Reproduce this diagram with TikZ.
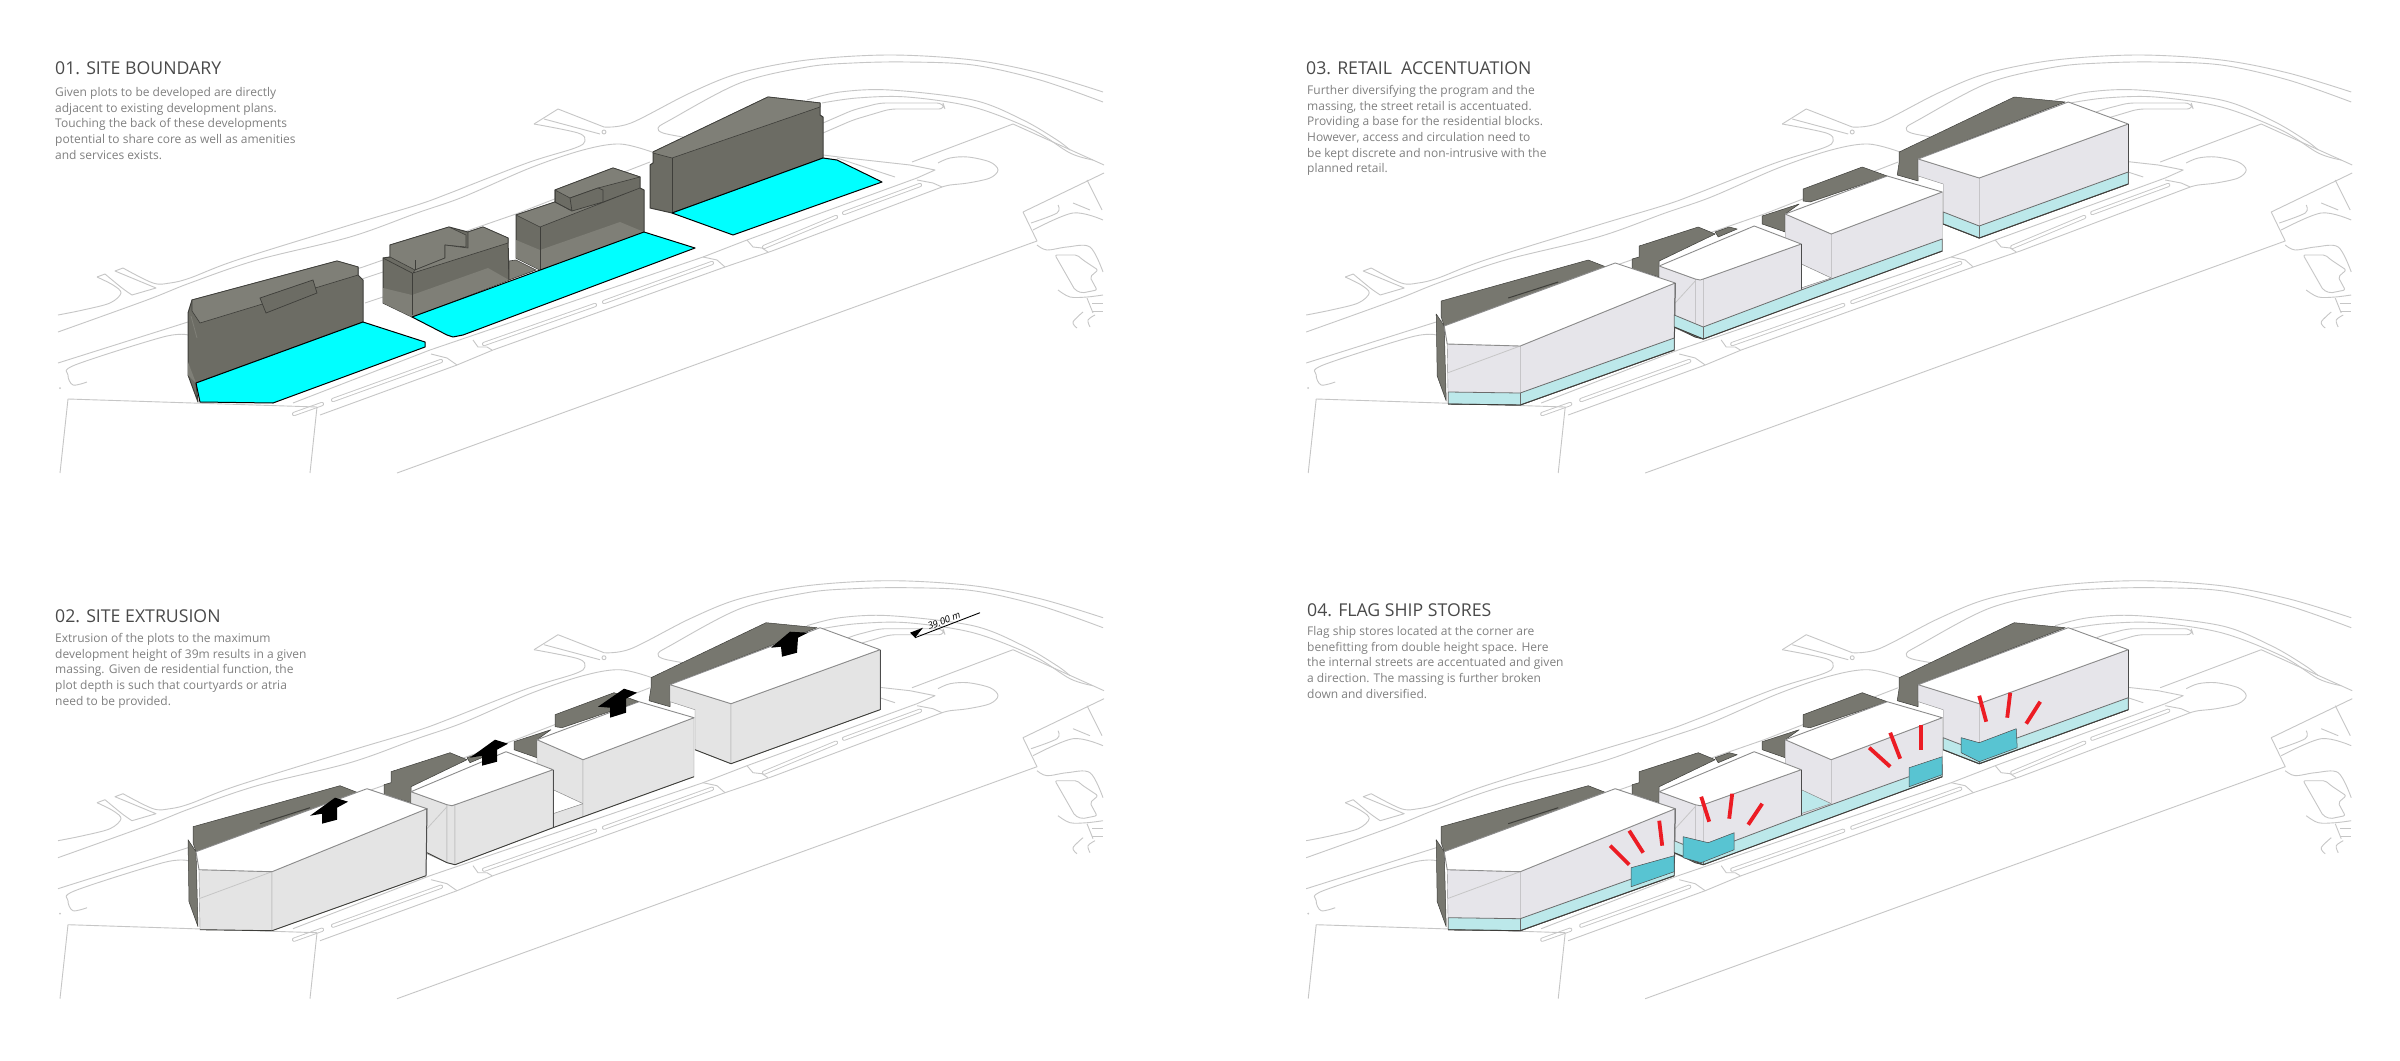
\documentclass[tikz,border=0pt]{standalone}
\usepackage{fontspec}
\setmainfont{Open Sans}
\definecolor{mapgray}{HTML}{C6C6C6}
\definecolor{bodydark}{HTML}{6C6C64}
\definecolor{roofdark}{HTML}{7F7F77}
\definecolor{remain}{HTML}{77776F}
\definecolor{edgedark}{HTML}{3E3E3A}
\definecolor{plotcyan}{HTML}{00FFFF}
\definecolor{facegrayA}{HTML}{E4E4E4}
\definecolor{facegrayB}{HTML}{E6E5EA}
\definecolor{baselight}{HTML}{BCE8EA}
\definecolor{flagcyan}{HTML}{58C4D2}
\definecolor{tickred}{HTML}{EC1C24}
\definecolor{titlegray}{HTML}{4A4A4A}
\definecolor{textgray}{HTML}{808080}
\definecolor{facelineg}{HTML}{8C8C8C}
\tikzset{
 mapline/.style={draw=mapgray,line width=.9pt,line join=round},
 slotline/.style={draw=mapgray,line width=.9pt,line cap=round,double=white,double distance=2.4pt},
 darkbody/.style={fill=bodydark,draw=edgedark,line width=1pt,line join=round},
 darkroof/.style={fill=roofdark,draw=edgedark,line width=.6pt,line join=round},
 softedge/.style={draw=edgedark,line width=.7pt},
 sitecyan/.style={fill=plotcyan,draw=black,line width=1pt,line join=round},
 remainpart/.style={fill=remain,draw=edgedark,line width=.5pt,line join=round},
 massroof/.style={fill=white,draw=facelineg,line width=.9pt,line join=round},
 massbase/.style={fill=baselight,draw=gray!85!black,line width=.8pt,line join=round},
 flagpart/.style={fill=flagcyan,draw=gray!60!black,line width=.5pt,line join=round},
 redtick/.style={draw=tickred,line width=3.8pt},
 blockarrow/.style={fill=black,draw=none},
 titletext/.style={anchor=west,inner sep=0pt,text=titlegray,font=\fontsize{17.7}{19}\selectfont},
 bodytext/.style={anchor=north west,inner sep=0pt,align=left,text=textgray,font=\fontsize{12}{15.7}\selectfont},
}
\newcommand\SmoothPath[1]{\draw[mapline] plot[smooth,tension=.55] coordinates {#1};}
\newcommand\SiteMap{%
 \SmoothPath{(58,315)(83,310)(110,303)(121,293)(113,285)(97,277)}
 \draw[mapline] (97,277)--(105,274);
 \SmoothPath{(105,274)(122,288)(132,295)}
 \draw[mapline] (132,295)--(156,288)--(115,271)--(123,268);
 \SmoothPath{(123,268)(153,283)(170,283)(190,278)(237,260)(350,225)(417,205)(450,193)(527,163)(575,148)(585,141)(578,133)(534,124)}
 \draw[mapline] (534,124)--(558,109)--(604,127);
 \draw[mapline] (544,119)--(600,134);
 \draw[mapline] (604,132) circle (2);
 \SmoothPath{(604,127)(631,123)(690,93)(740,73)(807,60)(890,55)(973,60)(1040,73)(1103,92)}
 \SmoothPath{(683,137)(663,133)(658,128)(670,120)(740,83)(807,67)(853,63)(907,62)(973,65)(1040,80)(1103,102)}
 \SmoothPath{(807,100)(840,92)(890,90)(973,100)(1023,120)(1057,140)(1070,150)}
 \SmoothPath{(822,103)(857,98)(907,97)(973,107)(1033,130)(1070,153)(1093,160)}
 \draw[mapline,rounded corners=6pt] (823,123)--(853,110)--(880,103)--(943,103)--(945,109)--(890,109)--(853,120)--(823,133);
 \draw[mapline] (912,162)--(1013,124)--(1104,165);
 \SmoothPath{(938,163)(950,158)(968,157)(990,162)(998,170)(990,178)(968,183)(950,185)(942,187)}
 \draw[mapline] (823,155)--(847,158)--(910,165)--(935,170)--(917,178);
 \draw[mapline] (837,158)--(895,177);
 \draw[mapline] (293,403)--(430,350)--(703,257)--(747,240)--(917,178);
 \draw[mapline] (320,415)--(457,365)--(493,350)--(725,267)--(772,251)--(942,187);
 \draw[mapline] (431,354)--(447,358)--(457,365);
 \draw[mapline] (473,340)--(478,347)--(487,347)--(492,350);
 \draw[mapline] (703,257)--(717,260)--(725,267);
 \draw[mapline] (747,240)--(753,247)--(762,248)--(768,252);
 \draw[mapline] (917,180)--(933,183)--(942,187);
 \draw[slotline] (294,414)--(322,404);
 \draw[slotline] (333,400)--(441,361);
 \draw[slotline] (484,344)--(595,305);
 \draw[slotline] (604,302)--(712,263);
 \draw[slotline] (764,247)--(836,217);
 \draw[slotline] (844,213)--(920,185);
 \draw[mapline] (310,473)--(317,407)--(68,399)--(60,473);
 \draw[mapline] (397,473)--(700,363)--(1037,241)--(1023,212)--(1104,173);
 \SmoothPath{(58,332)(147,300)(190,283)(257,260)(350,237)(417,213)(463,197)(530,168)(583,150)(620,144)(652,152)}
 \draw[mapline] (58,363)--(188,322)--(363,267)--(383,260)--(516,214)--(650,162);
 \SmoothPath{(87,382)(73,385)(68,375)(75,365)(163,337)(188,335)}
 \draw[mapline] (188,335)--(365,278)--(395,268);
 \draw[mapline] (365,303)--(383,297);
 \fill[mapgray] (60,388) circle (1);
 \SmoothPath{(1031,223)(1057,213)(1058,205)}
 \SmoothPath{(1033,230)(1073,213)(1103,220)}
 \draw[mapline] (1087,180)--(1102,210);
 \draw[mapline] (1073,203)--(1090,210);
 \SmoothPath{(1037,245)(1047,250)(1067,247)(1090,247)(1103,272)}
 \draw[mapline,rounded corners=2pt] (1055,255)--(1075,290)--(1082,293)--(1097,290)--(1090,277)--(1098,270)--(1083,260)--(1077,255)--cycle;
 \SmoothPath{(1058,290)(1070,297)(1087,297)(1103,295)}
 \draw[mapline] (1087,298)--(1093,313);
 \draw[mapline] (1092,303)--(1103,303);
 \draw[mapline] (1092,311)--(1103,311);
 \SmoothPath{(1077,328)(1073,322)(1083,312)}
 \SmoothPath{(1090,327)(1088,320)(1095,315)}
}
\newcommand\RemainParts{%
 \path[remainpart] (188,314)--(189,376)--(198,401)--(196,326)--cycle;
 \path[remainpart] (193,317)--(193,301)--(340,260)--(358,267)--(196,326)--cycle;
 \draw[edgedark,line width=1pt] (260,298)--(310,282);
 \path[remainpart] (384,269)--(384,259)--(391,257)--(391,246)--(450,227)--(467,234)--(411,261)--(411,277)--cycle;
 \path[remainpart] (467,232)--(481,227)--(489,229)--(470,237)--cycle;
 \path[remainpart] (514,216)--(551,204)--(537,214)--(537,232)--(514,224)--cycle;
 \path[remainpart] (555,189)--(614,167)--(639,176)--(562,202)--(555,201)--cycle;
 \path[remainpart] (651,152)--(766,97)--(817,102)--(670,159)--(670,181)--(649,175)--(651,162)--cycle;
}
% #1 face colour, #2 courtyard colour
\newcommand\MassFaces[2]{%
 \RemainParts
 \path[fill=#1,draw=facelineg] (537,214)--(583,234)--(583,278)--(553,264)--(537,258)--cycle;
 \path[fill=#2,draw=facelineg] (553,264)--(583,278)--(553,288)--cycle;
 \path[fill=#1,draw=facelineg] (553,288)--(583,278)--(583,291)--(553,302)--cycle;
 \path[fill=#1,draw=facelineg] (583,234)--(694,192)--(694,251)--(583,291)--cycle;
 \path[massroof] (537,214)--(639,176)--(694,192)--(583,234)--cycle;
 \path[fill=#1,draw=facelineg] (411,266)--(447,279)--(447,337)--(411,321)--cycle;
 \path[fill=#1,draw=facelineg] (447,279)--(455,279)--(455,339)--(447,337)--cycle;
 \path[fill=#1,draw=facelineg] (455,279)--(553,244)--(553,302)--(455,339)--cycle;
 \path[massroof] (411,266)--(506,226)--(553,244)--(458,278)--(452,280)--(447,279)--cycle;
 \draw[mapgray,line width=.8pt] (426,304)--(447,281);
 \path[fill=#1,draw=facelineg] (670,159)--(731,178)--(731,238)--(695,224)--(695,184)--(670,176)--cycle;
 \path[fill=#1,draw=facelineg] (731,178)--(880,124)--(880,184)--(731,238)--cycle;
 \path[massroof] (670,159)--(820,102)--(880,124)--(731,178)--cycle;
 \path[fill=#1,draw=facelineg] (199,344)--(272,346)--(272,405)--(200,404)--cycle;
 \draw[mapgray,line width=.8pt] (199,373)--(272,346);
 \path[fill=#1,draw=facelineg] (272,346)--(427,283)--(426,350)--(272,405)--cycle;
 \path[massroof] (196,326)--(367,263)--(427,283)--(272,346)--(199,344)--cycle;
 \draw[gray!60!black,line width=1pt] (427,283)--(426,350);
 \draw[gray!60!black,line width=1pt] (553,244)--(553,302);
 \draw[gray!60!black,line width=.9pt] (880,124)--(880,184);
 \draw[edgedark,line width=.9pt] (200,404)--(272,405)--(426,350);
 \draw[edgedark,line width=.9pt] (427,327)--(447,337)--(455,339)--(553,302);
 \draw[edgedark,line width=.9pt] (553,302)--(694,251);
 \draw[edgedark,line width=.9pt] (695,224)--(731,238)--(880,184);
}
\newcommand\MassBases{%
 \path[massbase] (200,392)--(272,393)--(426,338)--(426,350)--(272,405)--(200,404)--cycle;
 \draw[gray!85!black,line width=.6pt] (272,393)--(272,405);
 \path[massbase] (426,315)--(455,327)--(553,290)--(583,279)--(694,239)--(694,251)--(455,339)--(426,327)--cycle;
 \draw[gray!85!black,line width=.6pt] (455,327)--(455,339);
 \path[massbase] (695,212)--(731,226)--(880,172)--(880,184)--(731,238)--(695,224)--cycle;
 \draw[gray!85!black,line width=.6pt] (731,226)--(731,238);
 \draw[edgedark,line width=.9pt] (200,404)--(272,405)--(426,350);
 \draw[edgedark,line width=.9pt] (426,327)--(455,339)--(694,251);
 \draw[edgedark,line width=.9pt] (695,224)--(731,238)--(880,184);
}
\begin{document}
\begin{tikzpicture}[x=1pt,y=-1pt]
\useasboundingbox (0,0) rectangle (2400,1060);
\fill[white] (0,0) rectangle (2400,1060);
% ---------- panel 1
\begin{scope}
 \SiteMap
 % building 1
 \path[darkbody] (188,313)--(192,300)--(337,261)--(358,267)--(358,275)--(363,280)--(363,322)--(196,383)--(198,402)--(188,375)--cycle;
 \path[darkroof] (192,300)--(337,261)--(358,267)--(358,275)--(200,323)--(192,311)--cycle;
 \path[fill=bodydark,draw=edgedark,line width=.7pt] (260,298)--(313,280)--(317,293)--(266,313)--cycle;
 \draw[roofdark,line width=.8pt] (191,316)--(197,338);
 \fill[roofdark] (188,375)--(188,362)--(196,383)--cycle;
 % building 2a
 \path[darkbody] (383,258)--(390,257)--(390,245)--(449,227)--(468,232)--(483,227)--(508,238)--(509,280)--(412,317)--(383,303)--cycle;
 \fill[roofdark] (412,295)--(488,268)--(509,280)--(412,317)--cycle;
 \fill[roofdark] (383,288)--(412,295)--(412,317)--(383,303)--cycle;
 \path[darkroof] (390,245)--(449,227)--(466,235)--(466,247)--(445,245)--(445,258)--(415,270)--(390,257)--cycle;
 \path[darkroof] (468,232)--(483,227)--(508,238)--(508,243)--(413,273)--(415,270)--(445,258)--(445,245)--(468,248)--cycle;
 \draw[softedge] (412,273)--(412,315);
 \draw[softedge] (383,258)--(412,273);
 \draw[softedge] (415,270)--(415,260);
 % court
 \path[fill=roofdark,draw=edgedark,line width=.6pt] (509,261)--(516,260)--(536,270)--(509,280)--cycle;
 % building 2b
 \path[darkbody] (516,215)--(555,202)--(555,190)--(613,168)--(640,177)--(640,188)--(644,190)--(644,232)--(540,270)--(516,258)--cycle;
 \fill[roofdark] (540,250)--(620,222)--(644,232)--(540,270)--cycle;
 \fill[roofdark] (516,240)--(540,250)--(540,270)--(516,258)--cycle;
 \path[darkroof] (516,215)--(555,202)--(570,210)--(603,202)--(640,188)--(540,227)--cycle;
 \path[darkroof] (555,190)--(613,168)--(640,177)--(598,188)--(570,198)--cycle;
 \path[fill=bodydark,draw=edgedark,line width=.7pt] (570,198)--(598,188)--(603,190)--(603,202)--(572,211)--cycle;
 \draw[softedge] (555,190)--(555,202)--(572,211);
 \draw[softedge] (540,227)--(540,270);
 % building 3
 \path[darkbody] (653,152)--(768,97)--(820,103)--(820,115)--(823,117)--(823,158)--(672,213)--(650,208)--(650,165)--(653,163)--cycle;
 \path[darkroof] (653,152)--(768,97)--(820,103)--(820,107)--(672,158)--(653,153)--cycle;
 \draw[softedge] (672,158)--(672,213);
 % plots
 \path[sitecyan] (196,383)--(363,322)--(425,342)--(425,347)--(273,403)--(200,402)--cycle;
 \path[sitecyan] (412,317)--(644,232)--(695,248)--(463,335)--(453,337)--(447,335)--cycle;
 \path[sitecyan] (672,213)--(823,158)--(837,160)--(882,182)--(733,235)--cycle;
 \node[titletext] (t1) at (55,68) {01. SITE BOUNDARY};
 \node[bodytext] (b1) at (55,87) {Given plots to be developed are directly\\adjacent to existing development plans.\\Touching the back of these developments\\potential to share core as well as amenities\\and services exists.};
\end{scope}
% ---------- panel 2
\begin{scope}[shift={(0,525.7)}]
 \SiteMap
 \MassFaces{facegrayA}{white}
 \path[blockarrow] (310,290)--(335,272)--(348,276)--(337,282)--(337,294)--(322,298)--(322,288)--cycle;
 \path[blockarrow] (470,232)--(495,214)--(508,218)--(497,224)--(497,236)--(482,240)--(482,230)--cycle;
 \path[blockarrow] (598,181)--(624,163)--(637,167)--(626,173)--(626,187)--(610,192)--(610,182)--cycle;
 \path[blockarrow] (771,122)--(790,106)--(808,107)--(798,112)--(797,127)--(782,131)--(781,121)--cycle;
 \coordinate (dimA) at (915,112);
 \coordinate (dimB) at (980,87);
 \draw[black,line width=.9pt] (dimA)--(dimB);
 \path[blockarrow] (910,107)--(923,102)--(915,112)--cycle;
 \node[rotate=21,inner sep=0pt,font=\fontsize{9.5}{10}\itshape\selectfont,text=black] (dim) at (944,95) {39.00 m};
\end{scope}
\node[titletext] (t2) at (55,616) {02. SITE EXTRUSION};
\node[bodytext] (b2) at (55,633) {Extrusion of the plots to the maximum\\development height of 39m results in a given\\massing. Given de residential function, the\\plot depth is such that courtyards or atria\\need to be provided.};
% ---------- panel 3
\begin{scope}[shift={(1248.2,0)}]
 \SiteMap
 \MassFaces{facegrayB}{white}
 \MassBases
\end{scope}
\node[titletext] (t3) at (1306,68) {03. RETAIL\ \ ACCENTUATION};
\node[bodytext] (b3) at (1307,85) {Further diversifying the program and the\\massing, the street retail is accentuated.\\Providing a base for the residential blocks.\\However, access and circulation need to\\be kept discrete and non-intrusive with the\\planned retail.};
% ---------- panel 4
\begin{scope}[shift={(1248.2,525.7)}]
 \SiteMap
 \MassFaces{facegrayB}{baselight}
 \MassBases
 \path[flagpart] (383,342)--(426,330)--(426,346)--(383,361)--cycle;
 \path[flagpart] (435,311)--(460,317)--(486,307)--(486,324)--(453,337)--(435,332)--cycle;
 \path[flagpart] (661,242)--(694,231)--(694,249)--(661,261)--cycle;
 \path[flagpart] (713,212)--(731,217)--(768,203)--(769,222)--(731,236)--(713,227)--cycle;
 \draw[redtick] (362,320)--(381,339);
 \draw[redtick] (381,305)--(395,327);
 \draw[redtick] (411,295)--(414,320);
 \draw[redtick] (453,271)--(461,296);
 \draw[redtick] (484,268)--(481,293);
 \draw[redtick] (514,278)--(500,299);
 \draw[redtick] (621,222)--(642,241);
 \draw[redtick] (642,207)--(652,233);
 \draw[redtick] (673,199)--(673,224);
 \draw[redtick] (731,170)--(738,196);
 \draw[redtick] (762,167)--(759,192);
 \draw[redtick] (792,176)--(778,198);
\end{scope}
\node[titletext] (t4) at (1307,610) {04. FLAG SHIP STORES};
\node[bodytext] (b4) at (1307,626) {Flag ship stores located at the corner are\\benefitting from double height space. Here\\the internal streets are accentuated and given\\a direction. The massing is further broken\\down and diversified.};
\end{tikzpicture}
\end{document}
